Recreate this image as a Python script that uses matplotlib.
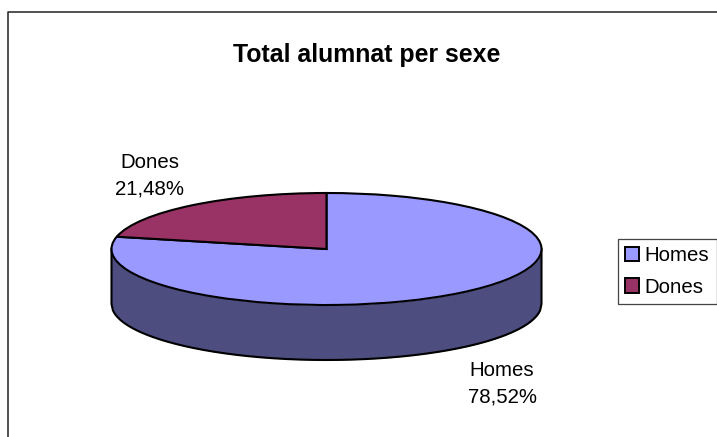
import numpy as np
import matplotlib
matplotlib.use("Agg")
import matplotlib.pyplot as plt

plt.rcParams['font.family'] = ['Liberation Sans', 'DejaVu Sans']

labels = ['Homes', 'Dones']
values = [78.52, 21.48]
value_text = ['78,52%', '21,48%']
colors = ['#9999FF', '#993366']
side_color = '#4D4D80'

W, H = 717, 437
cx, cy, rx, ry, depth = 326.5, 249, 215, 56, 55

fig = plt.figure(figsize=(W / 100, H / 100), dpi=100)
ax = fig.add_axes([0, 0, 1, 1])

# side of the cylinder goes under the top face
x = np.linspace(-1, 1, 300)
low = -np.sqrt(1 - x ** 2)
ax.fill_between(x, low, low - depth / ry, color=side_color, lw=0, zorder=1)
# one outline so the corners join cleanly
ax.plot(np.r_[-1, x, 1], np.r_[0, low - depth / ry, 0], color='black', lw=1.5, zorder=2)

wedges, _ = ax.pie(values, colors=colors, startangle=90, counterclock=False,
                   wedgeprops={'edgecolor': 'black', 'linewidth': 1.5, 'zorder': 3})

# pie forces equal aspect, undo so the circle is squashed into the ellipse
ax.set_aspect('auto')
ax.set_xlim((0 - cx) / rx, (W - cx) / rx)
ax.set_ylim((cy - H) / ry, cy / ry)
ax.axis('off')


def px(a, b):
    return a / W, 1 - b / H


# outer frame, open on the right and at the bottom
fig.add_artist(plt.Line2D([7.5 / W, 7.5 / W, 1], [0, 1 - 11.5 / H, 1 - 11.5 / H],
                          color='#222222', lw=1.1))

fig.text(*px(367, 55), 'Total alumnat per sexe', fontsize=17.9, fontweight='bold',
         ha='center', va='center', color='black')
fig.text(*px(150, 175.5), labels[1] + '\n' + value_text[1], fontsize=14.7, ha='center',
         va='center', color='black', linespacing=1.49)
fig.text(*px(502, 384), labels[0] + '\n' + value_text[0], fontsize=14.7, ha='center',
         va='center', color='black', linespacing=1.49)

leg = fig.legend(wedges, labels, loc='upper left', bbox_to_anchor=px(618, 239),
                 fontsize=14.7, frameon=True, fancybox=False, framealpha=1,
                 edgecolor='#444444', borderaxespad=0, borderpad=0.36,
                 handlelength=0.69, handleheight=0.69, handletextpad=0.25,
                 labelspacing=0.6)
leg.get_frame().set_linewidth(0.9)
for h in leg.legend_handles:
    h.set_linewidth(1.4)

fig.savefig('out.png', dpi=100)
